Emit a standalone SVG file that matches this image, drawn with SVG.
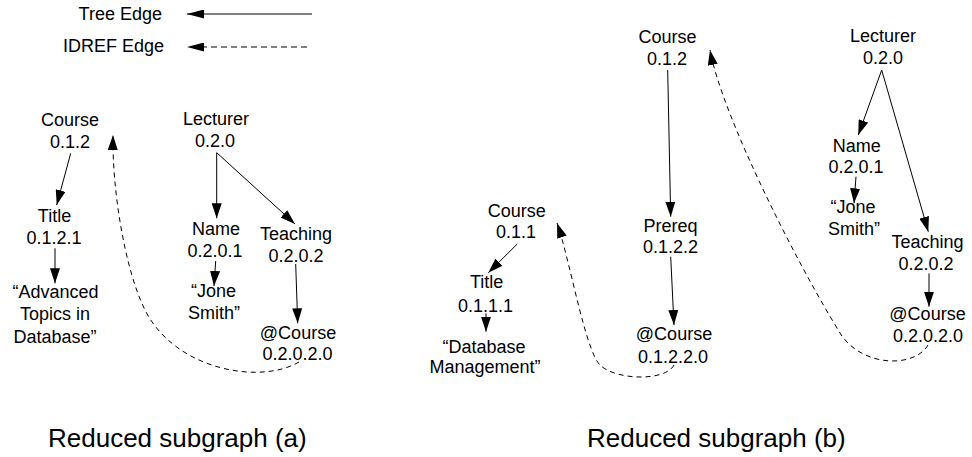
<svg xmlns="http://www.w3.org/2000/svg" width="972" height="457" viewBox="0 0 972 457">
  <style>
    text { font-family: "Liberation Sans", Arial, sans-serif; font-size: 18px; fill: #000; text-anchor: middle; }
    .legend { text-anchor: end; }
    .caption { font-size: 26px; text-anchor: start; }
    .tree { stroke: #000; stroke-width: 1; fill: none; marker-end: url(#head); }
    .idref { stroke: #000; stroke-width: 1; fill: none; stroke-dasharray: 5 4; marker-end: url(#head); }
  </style>
  <defs>
    <marker id="head" markerUnits="userSpaceOnUse" markerWidth="15" markerHeight="10" refX="15" refY="5" orient="auto">
      <path d="M0,0 L15,5 L0,10 z" fill="#000" stroke="none"/>
    </marker>
    <marker id="legendHead" markerUnits="userSpaceOnUse" markerWidth="17" markerHeight="9" refX="17" refY="4.5" orient="auto">
      <path d="M0,0 L17,4.5 L0,9 z" fill="#000" stroke="none"/>
    </marker>
  </defs>

  <rect width="972" height="457" fill="#fff"/>

  <!-- Legend -->
  <g id="legend">
    <text class="legend" x="162" y="20">Tree Edge</text>
    <line x1="312" y1="14" x2="187" y2="14" stroke="#000" stroke-width="1" marker-end="url(#legendHead)"/>
    <text class="legend" x="164" y="52">IDREF Edge</text>
    <line x1="307" y1="47" x2="187" y2="47" stroke="#000" stroke-width="1" stroke-dasharray="6 4" marker-end="url(#legendHead)"/>
  </g>

  <!-- Connectors -->
  <g id="connectors">
    <!-- subgraph (a) -->
    <line class="tree" x1="70.7" y1="153.3" x2="56.7" y2="205"/>
    <line class="tree" x1="55" y1="248.3" x2="55" y2="283.3"/>
    <line class="tree" x1="216.7" y1="152.7" x2="216.7" y2="218.3"/>
    <line class="tree" x1="216.7" y1="152.7" x2="295" y2="224"/>
    <line class="tree" x1="215.7" y1="261" x2="214" y2="286"/>
    <line class="tree" x1="295.7" y1="264" x2="297.7" y2="323.3"/>
    <path class="idref" d="M299,362 C260,385 175,370 145,310 C125,270 112,190 113,135"/>
    <!-- subgraph (b) -->
    <line class="tree" x1="667.7" y1="70" x2="670.7" y2="216.7"/>
    <line class="tree" x1="670.7" y1="256.7" x2="674" y2="325"/>
    <line class="tree" x1="517.3" y1="244" x2="488.3" y2="272.7"/>
    <line class="tree" x1="486" y1="313.3" x2="486" y2="331.7"/>
    <line class="tree" x1="881.7" y1="70" x2="858.3" y2="135"/>
    <line class="tree" x1="881.7" y1="70" x2="928.3" y2="231.7"/>
    <line class="tree" x1="856" y1="176.7" x2="854" y2="203.3"/>
    <line class="tree" x1="929" y1="273.3" x2="929" y2="306.7"/>
    <path class="idref" d="M674,365 C665,382 615,380 600,365 C585,350 570,260 557,223"/>
    <path class="idref" d="M928,345 C915,368 862,368 840,333 C795,260 722,115 710,50"/>
  </g>

  <!-- Reduced subgraph (a) -->
  <g id="a-course-012"><text x="70" y="126">Course</text><text x="70" y="148">0.1.2</text></g>
  <g id="a-lecturer-020"><text x="216" y="125">Lecturer</text><text x="215" y="147">0.2.0</text></g>
  <g id="a-title-0121"><text x="54.5" y="222">Title</text><text x="54" y="244">0.1.2.1</text></g>
  <g id="a-title-value"><text x="55.5" y="298">“Advanced</text><text x="55" y="320">Topics in</text><text x="55" y="343">Database”</text></g>
  <g id="a-name-0201"><text x="216" y="235">Name</text><text x="215" y="257">0.2.0.1</text></g>
  <g id="a-teaching-0202"><text x="296" y="240">Teaching</text><text x="296" y="262">0.2.0.2</text></g>
  <g id="a-name-value"><text x="213.5" y="297">“Jone</text><text x="214" y="318.5">Smith”</text></g>
  <g id="a-attr-course-02020"><text x="298" y="338.5">@Course</text><text x="297.5" y="360">0.2.0.2.0</text></g>

  <!-- Reduced subgraph (b) -->
  <g id="b-course-012"><text x="667.5" y="43.3">Course</text><text x="667" y="65">0.1.2</text></g>
  <g id="b-lecturer-020"><text x="883" y="41.7">Lecturer</text><text x="883" y="64">0.2.0</text></g>
  <g id="b-prereq-0122"><text x="670.5" y="231.7">Prereq</text><text x="670.5" y="253.3">0.1.2.2</text></g>
  <g id="b-attr-course-01220"><text x="674" y="340">@Course</text><text x="673" y="362.7">0.1.2.2.0</text></g>
  <g id="b-course-011"><text x="516.7" y="216.7">Course</text><text x="516" y="238.3">0.1.1</text></g>
  <g id="b-title-0111"><text x="486.7" y="288.3">Title</text><text x="485.5" y="311.7">0.1.1.1</text></g>
  <g id="b-title-value"><text x="484" y="353.3">“Database</text><text x="485" y="373.3">Management”</text></g>
  <g id="b-name-0201"><text x="856.7" y="151.7">Name</text><text x="856" y="173.3">0.2.0.1</text></g>
  <g id="b-name-value"><text x="853" y="213.3">“Jone</text><text x="854" y="235">Smith”</text></g>
  <g id="b-teaching-0202"><text x="927.5" y="248.3">Teaching</text><text x="926" y="270">0.2.0.2</text></g>
  <g id="b-attr-course-02020"><text x="927.5" y="320">@Course</text><text x="928" y="341.7">0.2.0.2.0</text></g>

  <!-- Captions -->
  <text class="caption" x="48" y="447">Reduced subgraph (a)</text>
  <text class="caption" x="587" y="447">Reduced subgraph (b)</text>
</svg>
